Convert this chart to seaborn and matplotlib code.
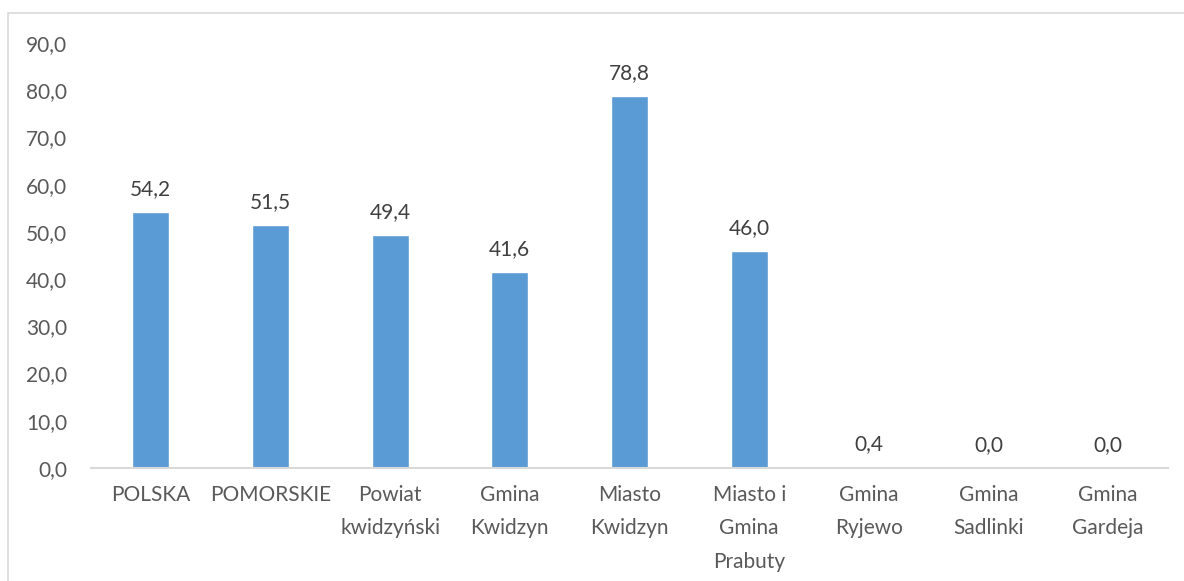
import matplotlib
matplotlib.use("Agg")
import matplotlib.pyplot as plt
import seaborn as sns
import pandas as pd
from matplotlib.patches import Rectangle

# DANE
kategorie = [
    "POLSKA",
    "POMORSKIE",
    "Powiat\nkwidzyński",
    "Gmina\nKwidzyn",
    "Miasto\nKwidzyn",
    "Miasto i\nGmina\nPrabuty",
    "Gmina\nRyjewo",
    "Gmina\nSadlinki",
    "Gmina\nGardeja",
]
wartosci = [54.2, 51.5, 49.4, 41.6, 78.8, 46.0, 0.4, 0.0, 0.0]
y_ticks = [0, 10, 20, 30, 40, 50, 60, 70, 80, 90]

df = pd.DataFrame({"kategoria": kategorie, "wartosc": wartosci})

sns.set_style("white")
plt.rcParams["font.family"] = ["Lato", "DejaVu Sans"]

fig = plt.figure(figsize=(11.84, 5.81), dpi=100)
ax = fig.add_axes([91 / 1184, 1 - 468 / 581, (1168 - 91) / 1184, (468 - 43) / 581])

sns.barplot(data=df, x="kategoria", y="wartosc", color="#5B9BD5",
            width=0.31, saturation=1, ax=ax)

ax.set_ylim(0, 90)
ax.set_xlim(-0.5, len(kategorie) - 0.5)
ax.set_yticks(y_ticks)
ax.set_yticklabels([f"{v:.1f}".replace(".", ",") for v in y_ticks])

ax.bar_label(ax.containers[0],
             labels=[f"{v:.1f}".replace(".", ",") for v in wartosci],
             padding=9, fontsize=15, color="#404040")

ax.set_xlabel("")
ax.set_ylabel("")
ax.tick_params(axis="y", labelsize=15, labelcolor="#595959", length=0, pad=17)
ax.tick_params(axis="x", labelsize=15, labelcolor="#595959", length=0, pad=12)
for lbl in ax.get_xticklabels():
    lbl.set_linespacing(1.85)

for s in ["top", "right", "left"]:
    ax.spines[s].set_visible(False)
ax.spines["bottom"].set_color("#D9D9D9")
ax.spines["bottom"].set_linewidth(1.5)

# ramka wykresu
fig.patches.append(Rectangle((8 / 1184, -0.05), 1.0, 1 - 13 / 581 + 0.05,
                             transform=fig.transFigure, fill=False,
                             edgecolor="#D9D9D9", linewidth=1.2))

fig.savefig("out.png", dpi=100)
